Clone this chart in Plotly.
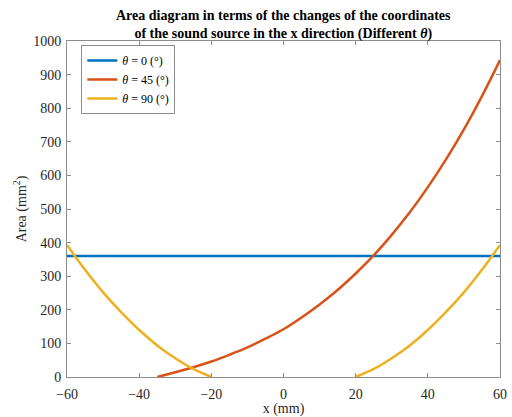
import plotly.graph_objects as go

# Sound-source x coordinate (mm) and the resulting area (mm^2) per angle
x_theta0 = [-60, 60]
area_theta0 = [360, 360]

x_theta45 = [-35, -30, -25, -20, -15, -10, -5, 0, 5, 10, 15, 20, 25, 30, 35, 40, 45, 50, 55, 60]
area_theta45 = [0, 14, 29, 46, 66, 88, 114, 142, 177, 216, 259, 308, 362, 423, 490, 565, 647, 737, 836, 943]

x_theta90_left = [-60, -55, -50, -45, -40, -35, -30, -25, -20]
area_theta90_left = [393, 319, 252, 193, 140, 94, 56, 24, 0]
x_theta90_right = [20, 25, 30, 35, 40, 45, 50, 55, 60]
area_theta90_right = [0, 24, 56, 94, 140, 193, 252, 319, 393]

labels = ["<i>θ</i> = 0 (°)", "<i>θ</i> = 45 (°)", "<i>θ</i> = 90 (°)"]
colors = ["#0072BD", "#D95319", "#EDB120"]

x_ticks = [-60, -40, -20, 0, 20, 40, 60]
y_ticks = [0, 100, 200, 300, 400, 500, 600, 700, 800, 900, 1000]

TITLE = ("<b>Area diagram in terms of the changes of the coordinates<br>"
         "of the sound source in the x direction (Different <i>θ</i>)</b>")

FONT = "Liberation Serif"
AXIS_COLOR = "#8c8c8c"
TEXT_COLOR = "#262626"

fig = go.Figure()
fig.add_trace(go.Scatter(x=x_theta0, y=area_theta0, mode="lines", name=labels[0],
                         line=dict(color=colors[0], width=2.5)))
fig.add_trace(go.Scatter(x=x_theta45, y=area_theta45, mode="lines", name=labels[1],
                         line=dict(color=colors[1], width=2.5, shape="spline")))
fig.add_trace(go.Scatter(x=x_theta90_left, y=area_theta90_left, mode="lines", name=labels[2],
                         legendgroup="t90", line=dict(color=colors[2], width=2.5, shape="spline")))
fig.add_trace(go.Scatter(x=x_theta90_right, y=area_theta90_right, mode="lines", name=labels[2],
                         legendgroup="t90", showlegend=False,
                         line=dict(color=colors[2], width=2.5, shape="spline")))

axis_common = dict(
    showline=True, linecolor=AXIS_COLOR, linewidth=1, mirror="ticks",
    ticks="inside", ticklen=4, tickcolor=AXIS_COLOR, showgrid=False, zeroline=False,
    automargin=False,
    tickfont=dict(family=FONT, size=14, color=TEXT_COLOR),
)

fig.update_layout(
    width=512, height=417,
    margin=dict(l=67, r=12, t=41, b=40),
    paper_bgcolor="white", plot_bgcolor="white",
    font=dict(family=FONT, color=TEXT_COLOR),
    xaxis=dict(range=[-60, 60], tickvals=x_ticks, ticklabelstandoff=4,
               title=dict(text="x (mm)", font=dict(family=FONT, size=14, color=TEXT_COLOR), standoff=2),
               **axis_common),
    yaxis=dict(range=[0, 1000], tickvals=y_ticks, ticklabelstandoff=2,
               title=dict(text="Area (mm<sup>2</sup>)", font=dict(family=FONT, size=14, color=TEXT_COLOR), standoff=3),
               **axis_common),
    legend=dict(
        x=0.033, y=0.988, xanchor="left", yanchor="top",
        bgcolor="white", bordercolor=AXIS_COLOR, borderwidth=1,
        font=dict(family=FONT, size=12, color="#000000"),
        tracegroupgap=0, itemwidth=30,
    ),
    annotations=[dict(
        text=TITLE, xref="paper", yref="paper", x=0.5, y=1, xanchor="center", yanchor="bottom",
        yshift=-3, showarrow=False, align="center",
        font=dict(family=FONT, size=14, color="#000000"),
    )],
)

fig.write_html("out.html")
